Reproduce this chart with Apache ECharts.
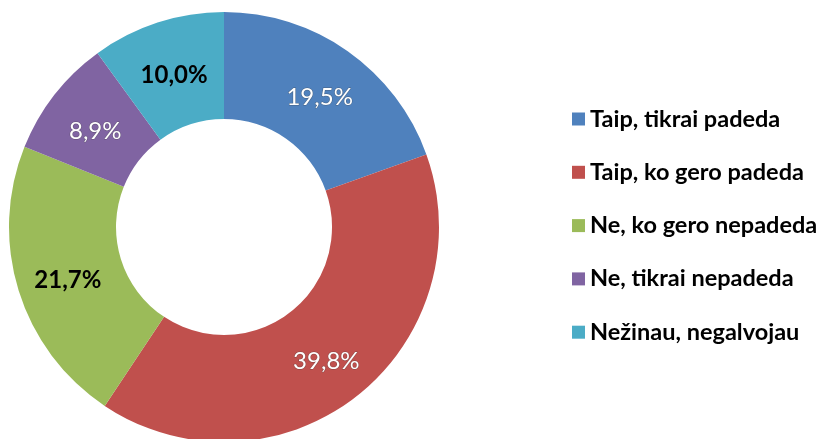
<!DOCTYPE html>
<html>
<head>
<meta charset="utf-8">
<script src="https://cdn.jsdelivr.net/npm/echarts@6/dist/echarts.min.js"></script>
<style>
  html, body { margin: 0; padding: 0; background: #fff; }
  #chart { width: 827px; height: 439px; }
</style>
</head>
<body>
<div id="chart"></div>
<script>
  var categories = ['Taip, tikrai padeda', 'Taip, ko gero padeda', 'Ne, ko gero nepadeda', 'Ne, tikrai nepadeda', 'Nežinau, negalvojau'];
  var values = [19.5, 39.8, 21.7, 8.9, 10.0];

  var colors = ['#4F81BD', '#C0504D', '#9BBB59', '#8064A2', '#4BACC6'];
  // label look differs per slice, like in the original
  var darkLabel = [false, false, true, false, true];

  var chart = echarts.init(document.getElementById('chart'));

  var data = categories.map(function (name, i) {
    return {
      name: name,
      value: values[i],
      label: {
        color: darkLabel[i] ? '#000' : '#fff',
        fontWeight: darkLabel[i] ? 'bold' : 'normal',
        textBorderColor: darkLabel[i] ? 'transparent' : 'rgba(60,60,60,0.45)',
        textBorderWidth: darkLabel[i] ? 0 : 1
      }
    };
  });

  var option = {
    animation: false,
    color: colors,
    legend: {
      orient: 'vertical',
      left: 567,
      top: 102,
      itemWidth: 13,
      itemHeight: 13,
      itemGap: 29.3,
      icon: 'rect',
      textStyle: {
        fontFamily: 'Lato',
        fontWeight: 'bold',
        fontSize: 23.5,
        color: '#000',
        padding: [0, 0, 0, 0]
      },
      data: categories
    },
    series: [{
      type: 'pie',
      radius: [108, 215],
      center: [224, 227],
      startAngle: 90,
      clockwise: true,
      avoidLabelOverlap: false,
      label: {
        show: true,
        position: 'inside',
        fontFamily: 'Lato',
        fontSize: 24,
        offset: [1, 5],
        formatter: function (p) {
          return p.value.toFixed(1).replace('.', ',') + '%';
        }
      },
      labelLine: { show: false },
      emphasis: { disabled: true },
      data: data
    }]
  };

  chart.setOption(option);
</script>
</body>
</html>
